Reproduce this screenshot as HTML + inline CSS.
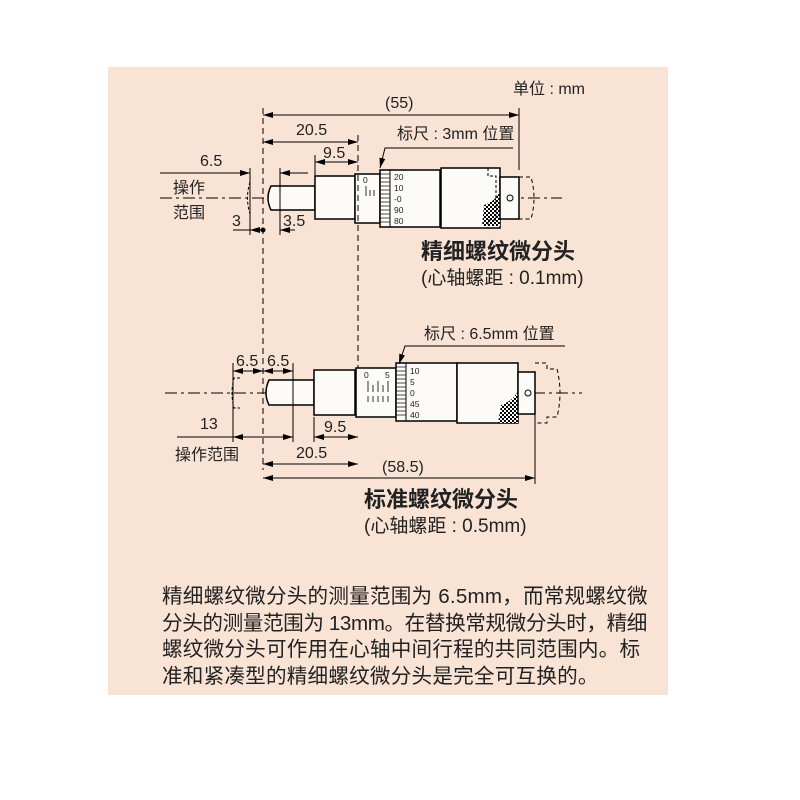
<!DOCTYPE html>
<html><head><meta charset="utf-8"><style>
body{margin:0;background:#fff;}
.p{position:absolute;left:108px;top:67px;width:560px;height:628px;background:#f8e3d5;}
svg{position:absolute;left:0;top:0}
text{font-family:"Liberation Sans","Noto Sans CJK SC",sans-serif;fill:#222}
.para{position:absolute;left:162px;top:584px;font-family:"Liberation Sans","Noto Sans CJK SC",sans-serif;font-size:20.6px;letter-spacing:0.2px;line-height:26.5px;color:#222;white-space:nowrap}
</style></head><body>
<div class="p"></div>
<svg width="800" height="800" viewBox="0 0 800 800">
<defs>
<marker id="a" viewBox="0 0 10 6" refX="10" refY="3" markerWidth="10" markerHeight="6" orient="auto-start-reverse" markerUnits="userSpaceOnUse"><path d="M0,0L10,3L0,6z" fill="#000"/></marker>
<pattern id="k" width="4" height="4" patternUnits="userSpaceOnUse"><rect width="4" height="4" fill="#fff"/><rect width="2" height="2" fill="#000"/><rect x="2" y="2" width="2" height="2" fill="#000"/></pattern>
</defs>
<g stroke="#000" fill="none" stroke-width="1">
<line x1="160" y1="198" x2="562" y2="198" stroke-dasharray="12,4,3,4"/>
<path d="M250,182 q-5,16 0,32" stroke-dasharray="3,2"/>
<path d="M271,186 h44 v24 h-44 q-6,-12 0,-24z" fill="#fdfbf8" stroke-width="1.5"/>
<rect x="315" y="176" width="40" height="43" fill="#fdfbf8" stroke-width="1.5"/>
<rect x="355" y="174" width="25" height="49" fill="#fdfbf8" stroke-width="1.5"/>
<rect x="380" y="170" width="60" height="57" fill="#fdfbf8" stroke-width="1.5"/>
<line x1="390" y1="170" x2="390" y2="227"/>
<rect x="441" y="168" width="59" height="60" fill="#fdfbf8" stroke-width="1.5"/>
<path d="M484,205 q12,-4 16,-14 v35 h-18z" fill="url(#k)" stroke="none"/>
<rect x="500" y="177" width="19" height="42" fill="#fdfbf8" stroke-width="1.5"/>
<circle cx="510" cy="198" r="3"/>
<path d="M519,177 h12 q6,21 0,42 h-12" stroke-dasharray="4,3"/>
<path d="M488,168 v8 h8 v44 h-8 v8" stroke-dasharray="3,2"/>
<g stroke-width="0.8"><line x1="366" y1="186" x2="366" y2="196"/><line x1="370" y1="190" x2="370" y2="196"/><line x1="374" y1="190" x2="374" y2="196"/></g>
<g stroke-width="0.7">
<line x1="380" y1="174" x2="390" y2="174"/><line x1="380" y1="178" x2="390" y2="178"/><line x1="380" y1="182" x2="390" y2="182"/><line x1="380" y1="186" x2="390" y2="186"/><line x1="380" y1="190" x2="390" y2="190"/><line x1="380" y1="194" x2="390" y2="194"/><line x1="380" y1="198" x2="390" y2="198"/><line x1="380" y1="202" x2="390" y2="202"/><line x1="380" y1="206" x2="390" y2="206"/><line x1="380" y1="210" x2="390" y2="210"/><line x1="380" y1="214" x2="390" y2="214"/><line x1="380" y1="218" x2="390" y2="218"/><line x1="380" y1="222" x2="390" y2="222"/></g>
<line x1="263" y1="108" x2="263" y2="470" stroke-dasharray="6,4"/>
<line x1="358" y1="135" x2="358" y2="370" stroke-dasharray="6,4"/>
<line x1="519" y1="108" x2="519" y2="170"/>
<line x1="315" y1="155" x2="315" y2="176"/>
<line x1="263" y1="115" x2="519" y2="115" marker-start="url(#a)" marker-end="url(#a)"/>
<line x1="263" y1="142" x2="358" y2="142" marker-start="url(#a)" marker-end="url(#a)"/>
<line x1="315" y1="162" x2="358" y2="162" marker-start="url(#a)" marker-end="url(#a)"/>
<line x1="160" y1="173" x2="250" y2="173" marker-end="url(#a)"/>
<line x1="308" y1="173" x2="280" y2="173" marker-end="url(#a)"/>
<line x1="250" y1="168" x2="250" y2="235"/><line x1="280" y1="168" x2="280" y2="235"/>
<line x1="233" y1="230" x2="250" y2="230"/><line x1="263" y1="230" x2="250" y2="230" marker-end="url(#a)"/>
<line x1="295" y1="230" x2="280" y2="230" marker-end="url(#a)"/>
<circle cx="263" cy="230" r="2" fill="#000"/>
<path d="M513,148 H385 L380,168" marker-end="url(#a)"/>
<line x1="165" y1="393" x2="582" y2="393" stroke-dasharray="12,4,3,4"/>
<path d="M240,378 h-6 q-4,15 0,30 h6" stroke-dasharray="3,2"/>
<path d="M269,380 h45 v25 h-45 q-6,-12 0,-25z" fill="#fdfbf8" stroke-width="1.5"/>
<rect x="314" y="370" width="41" height="45" fill="#fdfbf8" stroke-width="1.5"/>
<rect x="356" y="368" width="40" height="49" fill="#fdfbf8" stroke-width="1.5"/>
<rect x="396" y="363" width="61" height="58" fill="#fdfbf8" stroke-width="1.5"/>
<line x1="406" y1="363" x2="406" y2="421"/>
<rect x="457" y="363" width="61" height="60" fill="#fdfbf8" stroke-width="1.5"/>
<path d="M501,405 q12,-4 17,-14 v32 h-20z" fill="url(#k)" stroke="none"/>
<rect x="518" y="372" width="17" height="42" fill="#fdfbf8" stroke-width="1.5"/>
<circle cx="528" cy="393" r="3"/>
<path d="M535,363 h12 v6 h10 q6,24 0,48 h-10 v6 h-12" stroke-dasharray="4,3"/>
<g stroke-width="0.8"><line x1="368" y1="381" x2="368" y2="392"/><line x1="373" y1="385" x2="373" y2="392"/><line x1="378" y1="381" x2="378" y2="392"/><line x1="383" y1="385" x2="383" y2="392"/><line x1="388" y1="381" x2="388" y2="392"/>
<line x1="368" y1="396" x2="368" y2="402"/><line x1="373" y1="396" x2="373" y2="402"/><line x1="378" y1="396" x2="378" y2="402"/><line x1="383" y1="396" x2="383" y2="402"/><line x1="388" y1="396" x2="388" y2="402"/></g>
<g stroke-width="0.7">
<line x1="396" y1="367" x2="406" y2="367"/><line x1="396" y1="371" x2="406" y2="371"/><line x1="396" y1="375" x2="406" y2="375"/><line x1="396" y1="379" x2="406" y2="379"/><line x1="396" y1="383" x2="406" y2="383"/><line x1="396" y1="387" x2="406" y2="387"/><line x1="396" y1="391" x2="406" y2="391"/><line x1="396" y1="395" x2="406" y2="395"/><line x1="396" y1="399" x2="406" y2="399"/><line x1="396" y1="403" x2="406" y2="403"/><line x1="396" y1="407" x2="406" y2="407"/><line x1="396" y1="411" x2="406" y2="411"/><line x1="396" y1="415" x2="406" y2="415"/></g>
<line x1="233" y1="363" x2="233" y2="442"/><line x1="293" y1="363" x2="293" y2="442"/>
<line x1="314" y1="417" x2="314" y2="442"/><line x1="535" y1="414" x2="535" y2="484"/>
<line x1="233" y1="371" x2="263" y2="371" marker-start="url(#a)" marker-end="url(#a)"/>
<line x1="263" y1="371" x2="293" y2="371" marker-start="url(#a)" marker-end="url(#a)"/>
<line x1="177" y1="437" x2="233" y2="437"/>
<line x1="233" y1="437" x2="293" y2="437" marker-start="url(#a)" marker-end="url(#a)"/>
<line x1="314" y1="437" x2="358" y2="437" marker-start="url(#a)" marker-end="url(#a)"/>
<line x1="263" y1="464" x2="358" y2="464" marker-start="url(#a)" marker-end="url(#a)"/>
<line x1="263" y1="478" x2="535" y2="478" marker-start="url(#a)" marker-end="url(#a)"/>
<path d="M565,346 H405 L399,364" marker-end="url(#a)"/>
</g>
<g font-size="16">
<text x="513" y="94">单位 : mm</text>
<text x="385" y="108">(55)</text>
<text x="296" y="135">20.5</text>
<text x="323" y="158">9.5</text>
<text x="200" y="166">6.5</text>
<text x="173" y="193">操作</text>
<text x="173" y="218">范围</text>
<text x="232" y="226">3</text>
<text x="283" y="226">3.5</text>
<text x="397" y="139">标尺 : 3mm 位置</text>
<text x="424" y="339">标尺 : 6.5mm 位置</text>
<text x="236" y="366">6.5</text>
<text x="267" y="366">6.5</text>
<text x="200" y="429">13</text>
<text x="175" y="460">操作范围</text>
<text x="324" y="432">9.5</text>
<text x="296" y="458">20.5</text>
<text x="382" y="472">(58.5)</text>
<text x="421" y="284" font-size="19">(心轴螺距 : 0.1mm)</text>
<text x="364" y="532" font-size="19">(心轴螺距 : 0.5mm)</text>
<text x="421" y="259" font-size="22" font-weight="bold">精细螺纹微分头</text>
<text x="364" y="507" font-size="22" font-weight="bold">标准螺纹微分头</text>
</g>
<g font-size="8.5">
<text x="363" y="183">0</text>
<text x="394" y="180">20</text><text x="394" y="191">10</text><text x="394" y="202">-0</text><text x="394" y="213">90</text><text x="394" y="224">80</text>
<text x="364" y="378">0</text><text x="385" y="378">5</text>
<text x="410" y="374">10</text><text x="410" y="385">5</text><text x="410" y="396">0</text><text x="410" y="407">45</text><text x="410" y="418">40</text>
</g>
</svg>
<div class="para">精细螺纹微分头的测量范围为 6.5mm，而常规螺纹微<br><span style="letter-spacing:-0.4px">分头的测量范围为 13mm。在替换常规微分头时，精细</span><br>螺纹微分头可作用在心轴中间行程的共同范围内。标<br>准和紧凑型的精细螺纹微分头是完全可互换的。</div>
</body></html>
